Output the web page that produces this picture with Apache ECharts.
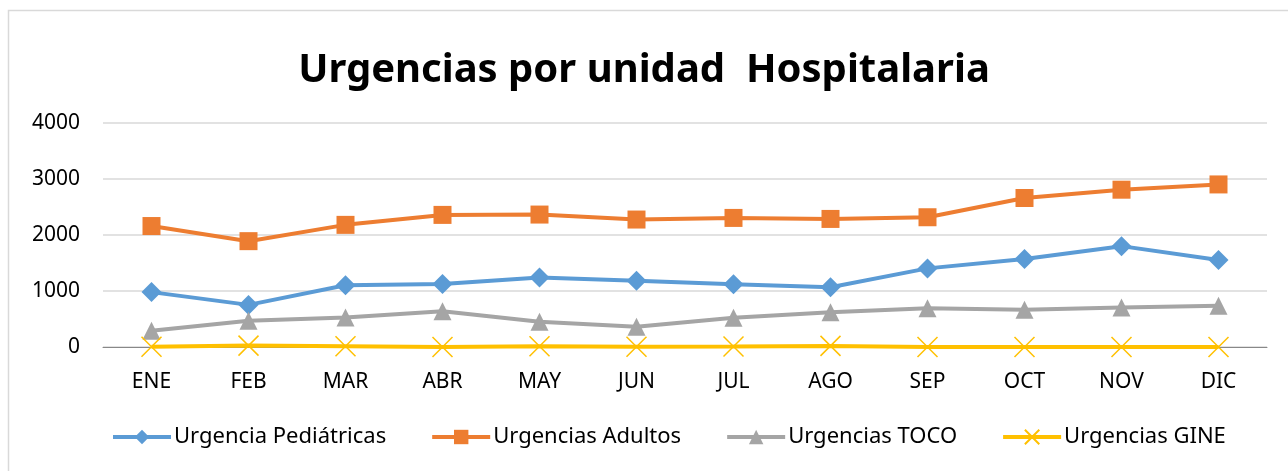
<!DOCTYPE html>
<html>
<head>
<meta charset="utf-8">
<script src="https://cdn.jsdelivr.net/npm/echarts@6/dist/echarts.min.js"></script>
<style>
  html, body { margin: 0; padding: 0; background: #fff; }
  #chart { width: 1288px; height: 471px; }
</style>
</head>
<body>
<div id="chart"></div>
<script>
// datos
var meses = ['ENE', 'FEB', 'MAR', 'ABR', 'MAY', 'JUN', 'JUL', 'AGO', 'SEP', 'OCT', 'NOV', 'DIC'];
var pediatricas = [980, 752, 1102, 1125, 1239, 1185, 1120, 1067, 1404, 1570, 1801, 1553];
var adultos = [2160, 1890, 2181, 2359, 2365, 2276, 2305, 2287, 2317, 2661, 2809, 2903];
var toco = [290, 468, 528, 640, 450, 362, 521, 622, 693, 664, 706, 735];
var gine = [5, 25, 15, 0, 15, 5, 10, 20, 0, 0, 0, 0];
var ticksY = [0, 1000, 2000, 3000, 4000];

var fuente = '"Noto Sans", sans-serif';

var dom = document.getElementById('chart');
var myChart = echarts.init(dom, null, { renderer: 'canvas' });

function serie(nombre, datos, color, simbolo, tam, soloBorde) {
  return {
    name: nombre,
    type: 'line',
    data: datos,
    symbol: simbolo,
    symbolSize: tam,
    showAllSymbol: true,
    lineStyle: { color: color, width: 4 },
    itemStyle: soloBorde
      ? { color: 'rgba(0,0,0,0)', borderColor: color, borderWidth: 1.5 }
      : { color: color },
    emphasis: { disabled: true }
  };
}

var option = {
  backgroundColor: '#fff',
  animation: false,
  graphic: [{
    type: 'rect',
    shape: { x: 8.5, y: 10.5, width: 1400, height: 600 },
    style: { fill: 'none', stroke: '#d9d9d9', lineWidth: 1.5 },
    silent: true
  }],
  title: {
    text: 'Urgencias por unidad  Hospitalaria',
    left: 'center',
    top: 46,
    textStyle: { fontFamily: fuente, fontSize: 40, fontWeight: 'bold', color: '#000' }
  },
  grid: { left: 103, right: 21, top: 123, bottom: 124, containLabel: false },
  legend: {
    bottom: 18,
    left: 106,
    itemWidth: 58,
    itemHeight: 18,
    itemGap: 44,
    lineStyle: { width: 4 },
    textStyle: { fontFamily: fuente, fontSize: 22, color: '#000', padding: [0, 0, 0, -2] },
    data: ['Urgencia Pediátricas', 'Urgencias Adultos', 'Urgencias TOCO', 'Urgencias GINE']
  },
  xAxis: {
    type: 'category',
    data: meses,
    boundaryGap: true,
    axisLine: { lineStyle: { color: '#888', width: 1 } },
    axisTick: { show: false },
    axisLabel: { fontFamily: fuente, fontSize: 21, color: '#000', margin: 25 }
  },
  yAxis: {
    type: 'value',
    min: ticksY[0],
    max: ticksY[ticksY.length - 1],
    interval: 1000,
    axisLine: { show: false },
    axisTick: { show: false },
    axisLabel: {
      fontFamily: fuente, fontSize: 21, color: '#000', margin: 23,
      formatter: function (v) { return String(v); }
    },
    splitLine: { lineStyle: { color: '#d9d9d9', width: 1.5 } }
  },
  series: [
    serie('Urgencia Pediátricas', pediatricas, '#5b9bd5', 'diamond', 20),
    serie('Urgencias Adultos', adultos, '#ed7d31', 'rect', 18),
    serie('Urgencias TOCO', toco, '#a5a5a5', 'triangle', 18),
    serie('Urgencias GINE', gine, '#ffc000', 'path://M0,0 L10,10 M10,0 L0,10', 20, true)
  ]
};

myChart.setOption(option);
window.addEventListener('resize', myChart.resize);
</script>
</body>
</html>
